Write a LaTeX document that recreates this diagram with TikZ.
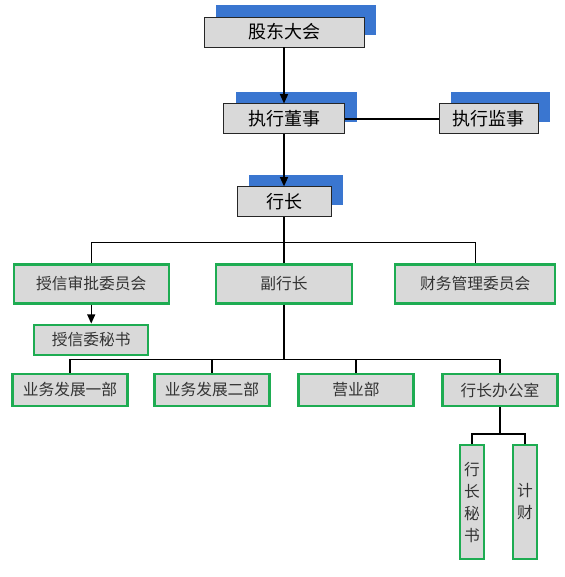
\documentclass[tikz,border=0pt]{standalone}
\usepackage{fontspec}
\setmainfont{Noto Sans CJK SC}
\usetikzlibrary{arrows.meta,positioning,shadows}
\definecolor{topblue}{RGB}{58,118,208}
\definecolor{boxgray}{RGB}{217,217,217}
\definecolor{boxgreen}{RGB}{30,172,82}
\tikzset{
  topblk/.style={draw=black!85,line width=0.7pt,fill=boxgray,minimum height=22.5pt,inner sep=0pt,
    font=\fontsize{13.5}{16}\selectfont,
    drop shadow={shadow xshift=9pt,shadow yshift=9pt,fill=topblue,draw=none,opacity=1}},
  grnblk/.style={draw=boxgreen,line width=1.7pt,fill=boxgray,inner sep=0pt,text=black!80,
    font=\fontsize{11.8}{16.5}\selectfont},
  midblk/.style={grnblk,minimum height=29.25pt},
  rowblk/.style={grnblk,minimum width=86.25pt,minimum height=24pt},
  vblk/.style={grnblk,minimum width=18pt,minimum height=85.5pt,align=center},
  arr/.style={-{Triangle[length=7pt,width=6pt]},line width=1.1pt},
  ln/.style={line width=1.1pt}
}
\begin{document}
\begin{tikzpicture}[x=0.75pt,y=-0.75pt]
  \useasboundingbox (0,0) rectangle (564,577);
  % top of the chart
  \node[topblk,minimum width=120pt] (gdh) at (284,32) {股东大会};
  \node[topblk,minimum width=90.75pt,below=42pt of gdh] (dongshi) {执行董事};
  \node[topblk,minimum width=74.25pt,right=70.5pt of dongshi] (jianshi) {执行监事};
  \node[topblk,minimum width=70.5pt,below=39pt of dongshi] (hangzhang) {行长};

  % second level
  \node[midblk,minimum width=102pt,below=34.5pt of hangzhang] (fuhz) {副行长};
  \node[midblk,minimum width=116.25pt,left=33.75pt of fuhz] (shouxin) {授信审批委员会};
  \node[midblk,minimum width=120pt,right=30.75pt of fuhz] (caiwu) {财务管理委员会};
  \node[grnblk,minimum width=85.5pt,minimum height=22.5pt,below=14.25pt of shouxin] (sxms) {授信委秘书};

  % departments
  \node[rowblk] (yw1) at (70,390) {业务发展一部};
  \node[rowblk] (yw2) at (212,390) {业务发展二部};
  \node[rowblk] (yyb) at (356,390) {营业部};
  \node[rowblk] (bgs) at (500,390) {行长办公室};
  \node[vblk] (hzms) at (472,502) {行\\长\\秘\\书};
  \node[vblk] (jicai) at (525,502) {计\\财};

  \coordinate[below=18.75pt of hangzhang.south] (bus1);
  \coordinate[below=41.25pt of fuhz.south] (bus2);
  \coordinate[below=20.25pt of bgs.south] (bus3);

  \draw[arr] (gdh) -- (dongshi);
  \draw[arr] (dongshi) -- (hangzhang);
  \draw[ln] (dongshi) -- (jianshi);
  \draw[ln] (hangzhang) -- (bus1);
  \draw[ln] (shouxin.north) |- (bus1) -| (caiwu.north);
  \draw[ln] (bus1) -- (fuhz);
  \draw[arr] (shouxin) -- (sxms);
  \draw[ln] (fuhz) -- (bus2);
  \draw[ln] (yw1.north) |- (bus2) -| (bgs.north);
  \draw[ln] (yw2.north) |- (bus2);
  \draw[ln] (yyb.north) |- (bus2);
  \draw[ln] (bgs) -- (bus3);
  \draw[ln] (hzms.north) |- (bus3) -| (jicai.north);
\end{tikzpicture}
\end{document}
